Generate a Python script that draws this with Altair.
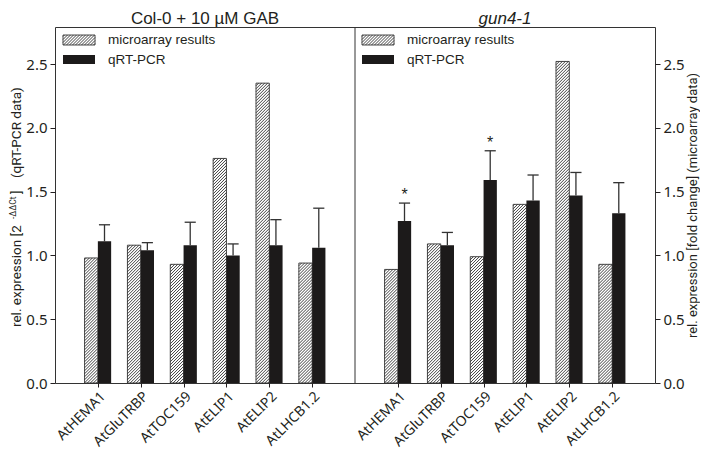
import altair as alt
import pandas as pd

# ---------------- data ----------------
genes = ["AtHEMA1", "AtGluTRBP", "AtTOC159", "AtELIP1", "AtELIP2", "AtLHCB1.2"]
col0_micro = [0.98, 1.08, 0.93, 1.76, 2.35, 0.94]
col0_qpcr = [1.11, 1.04, 1.08, 1.00, 1.08, 1.06]
col0_err = [0.13, 0.06, 0.18, 0.09, 0.20, 0.31]
gun4_micro = [0.89, 1.09, 0.99, 1.40, 2.52, 0.93]
gun4_qpcr = [1.27, 1.08, 1.59, 1.43, 1.47, 1.33]
gun4_err = [0.14, 0.10, 0.23, 0.20, 0.18, 0.24]
gun4_sig = [True, False, True, False, False, False]
col0_sig = [False] * 6
panel_titles = ["Col-0 + 10 µM GAB", "gun4-1"]
series_names = ["microarray results", "qRT-PCR"]
y_ticks = [0.0, 0.5, 1.0, 1.5, 2.0, 2.5]
left_title = ["rel. expression [2", "-ΔΔCt", "]", "(qRT-PCR data)"]
right_title = "rel. expression [fold change] (microarray data)"

# ---------------- layout constants ----------------
W, H = 600, 356
YMAX = 2.79
XMAX = 14
BW = 0.31
SP = 3.0  # hatch spacing (px)
sx = W / XMAX
sy = H / YMAX
TXT = "#231f20"
FONT = "Noto Sans"
TFONT = "Roboto"
HCOL = "#2a2a2a"

rows = []
for p, (mic, q, e, sig) in enumerate([(col0_micro, col0_qpcr, col0_err, col0_sig),
                                       (gun4_micro, gun4_qpcr, gun4_err, gun4_sig)]):
    for i, g in enumerate(genes):
        c = p * 7 + i + 1
        rows.append(dict(gene=g, pos=c, micro=mic[i], qpcr=q[i], top=q[i] + e[i],
                         sig="*" if sig[i] else ""))
df = pd.DataFrame(rows)
df["h0"] = df.pos - BW
df["q1"] = df.pos + BW
df["ec"] = df.pos + BW / 2
df["cl"] = df.ec - 0.13
df["cr"] = df.ec + 0.13


def hatch(w, h, sp):
    """diagonal '/' segments inside a w x h box (pixel units, y up)"""
    segs = []
    k = -w + sp / 2
    while k < h:
        xa = max(0.0, -k)
        xb = min(w, h - k)
        if xb > xa:
            segs.append((xa, xa + k, xb, xb + k))
        k += sp
    return segs


hrows = []
for _, r in df.iterrows():
    for (xa, ya, xb, yb) in hatch(BW * sx, r.micro * sy, SP):
        hrows.append(dict(x=r.h0 + xa / sx, y=ya / sy, x2=r.h0 + xb / sx, y2=yb / sy))
hdf = pd.DataFrame(hrows)

# legend (pixel space)
leg_x = [8, 307]
leg_rows, leg_hatch, leg_text = [], [], []
for lx in leg_x:
    leg_rows.append(dict(x=lx, x2=lx + 32, y=8, y2=18, kind="hatch"))
    leg_rows.append(dict(x=lx, x2=lx + 32, y=28, y2=37, kind="solid"))
    for (xa, ya, xb, yb) in hatch(32, 10, SP):
        leg_hatch.append(dict(x=lx + xa, y=18 - ya, x2=lx + xb, y2=18 - yb))
    leg_text.append(dict(x=lx + 45, y=13, t=series_names[0]))
    leg_text.append(dict(x=lx + 45, y=33, t=series_names[1]))
legdf = pd.DataFrame(leg_rows)
leghdf = pd.DataFrame(leg_hatch)
legtdf = pd.DataFrame(leg_text)

# ---------------- scales / axes ----------------
yscale = alt.Scale(domain=[0, YMAX], nice=False, zero=True)
xscale = alt.Scale(domain=[0, XMAX], nice=False, zero=False)
label_arr = [""] * (XMAX + 1)
for _, r in df.iterrows():
    label_arr[int(r.pos)] = r.gene
label_expr = "[" + ",".join("'" + s + "'" for s in label_arr) + "][datum.value]"

xaxis = alt.Axis(values=[float(v) for v in df.pos], labelExpr=label_expr, labelAngle=-45,
                 labelOverlap=False, labelBound=False, labelFlush=False,
                 title=None, grid=False, domain=False, tickSize=4, tickColor=TXT,
                 labelFont=FONT, labelFontSize=14, labelColor=TXT, labelPadding=2)
left_axis = alt.Axis(orient="left", values=y_ticks, format=".1f", title=None, grid=False,
                     domain=False, tickSize=5, tickColor=TXT, labelFont=FONT,
                     labelFontSize=15, labelColor=TXT, labelPadding=3)
right_axis = alt.Axis(orient="right", values=y_ticks, format=".1f", title=right_title,
                      titleAngle=270, titleBaseline="top", titleFont=TFONT, titleFontSize=13,
                      titleFontWeight="normal", titleColor=TXT, titlePadding=2, grid=False,
                      domain=False, tickSize=5, tickColor=TXT, labelFont=FONT,
                      labelFontSize=15, labelColor=TXT, labelPadding=3)

base = alt.Chart(df)

hatched = base.mark_rect(fill="white", stroke="#333", strokeWidth=0.9).encode(
    x=alt.X("h0:Q", scale=xscale, axis=xaxis), x2="pos:Q",
    y=alt.Y("micro:Q", scale=yscale, axis=right_axis), y2=alt.datum(0))

hatch_lines = alt.Chart(hdf).mark_rule(stroke=HCOL, strokeWidth=0.9).encode(
    x=alt.X("x:Q", scale=xscale, axis=xaxis), x2="x2:Q",
    y=alt.Y("y:Q", scale=yscale, axis=None), y2="y2:Q")

solid = base.mark_rect(fill="#1c1a1a").encode(
    x=alt.X("pos:Q", scale=xscale, axis=xaxis), x2="q1:Q",
    y=alt.Y("qpcr:Q", scale=yscale, axis=left_axis), y2=alt.datum(0))

err = base.mark_rule(stroke="#333", strokeWidth=1.3).encode(
    x=alt.X("ec:Q", scale=xscale, axis=xaxis),
    y=alt.Y("qpcr:Q", scale=yscale, axis=None), y2="top:Q")

caps = base.mark_rule(stroke="#333", strokeWidth=1.3).encode(
    x=alt.X("cl:Q", scale=xscale, axis=xaxis), x2="cr:Q",
    y=alt.Y("top:Q", scale=yscale, axis=None))

stars = base.mark_text(font="Liberation Sans", fontSize=16, color=TXT, baseline="middle", dy=-8).encode(
    x=alt.X("ec:Q", scale=xscale, axis=xaxis),
    y=alt.Y("top:Q", scale=yscale, axis=None), text="sig:N")

divider = alt.Chart(pd.DataFrame({"v": [7.0]})).mark_rule(color="#333", strokeWidth=1).encode(
    x=alt.X("v:Q", scale=xscale, axis=xaxis))

leg_rect_h = alt.Chart(legdf[legdf.kind == "hatch"]).mark_rect(fill="white", stroke="#333", strokeWidth=0.9).encode(
    x=alt.X("x:Q", scale=None), x2="x2:Q", y=alt.Y("y:Q", scale=None), y2="y2:Q")
leg_rect_s = alt.Chart(legdf[legdf.kind == "solid"]).mark_rect(fill="#1c1a1a").encode(
    x=alt.X("x:Q", scale=None), x2="x2:Q", y=alt.Y("y:Q", scale=None), y2="y2:Q")
leg_hl = alt.Chart(leghdf).mark_rule(stroke=HCOL, strokeWidth=0.9).encode(
    x=alt.X("x:Q", scale=None), x2="x2:Q", y=alt.Y("y:Q", scale=None), y2="y2:Q")
leg_txt = alt.Chart(legtdf).mark_text(font="Liberation Sans", fontSize=13.5, color=TXT,
                                      align="left", baseline="middle").encode(
    x=alt.X("x:Q", scale=None), y=alt.Y("y:Q", scale=None), text="t:N")

title_l = alt.Chart(pd.DataFrame({"t": [panel_titles[0]]})).mark_text(
    font="Liberation Sans", fontSize=17, color=TXT, baseline="alphabetic").encode(
    x=alt.value(W / 4), y=alt.value(-3), text="t:N")
title_r = alt.Chart(pd.DataFrame({"t": [panel_titles[1]]})).mark_text(
    font="Liberation Sans", fontSize=17, fontStyle="italic", color=TXT, baseline="alphabetic").encode(
    x=alt.value(3 * W / 4), y=alt.value(-3), text="t:N")

lt_pieces = pd.DataFrame({
    "t": left_title,
    "yy": [300, 192, 167, 151],
    "xx": [-38, -42, -38, -38],
    "fs": [13.5, 8.5, 13.5, 13.5],
})
lt_charts = []
for _, r in lt_pieces.iterrows():
    lt_charts.append(alt.Chart(pd.DataFrame({"t": [r.t]})).mark_text(
        font=TFONT, fontSize=float(r.fs), color=TXT, angle=270, align="left",
        baseline="middle").encode(x=alt.value(float(r.xx)), y=alt.value(float(r.yy)), text="t:N"))

chart = alt.layer(
    hatched, hatch_lines, solid, err, caps, stars, divider,
    leg_rect_h, leg_hl, leg_rect_s, leg_txt, title_l, title_r, *lt_charts
).resolve_scale(y="independent").properties(
    width=W, height=H,
    autosize=alt.AutoSizeParams(type="none"),
    padding={"left": 47, "top": 19, "right": 45, "bottom": 70},
).configure_view(stroke="#333", strokeWidth=1)

chart.save("out.html", embed_options={"renderer": "svg", "actions": False})
